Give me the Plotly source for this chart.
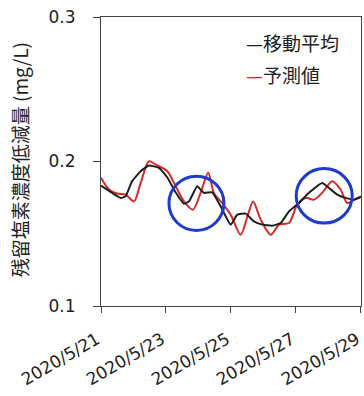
import pandas as pd
import plotly.graph_objects as go

# hours after 2020-05-21 00:00 and values (mg/L)
ma_hours = [0, 14.5, 18.2, 22.9, 29.3, 35.4, 42.8, 49.0, 55.2, 61.3, 65.0, 71.1, 76.0, 82.2, 88.4,
            95.8, 100.7, 106.9, 113.0, 119.1, 126.5, 132.7, 138.9, 146.2, 153.6, 163.4, 168.4,
            174.5, 180.7, 186.8, 192.0]
ma_values = [0.1833, 0.1748, 0.1759, 0.1863, 0.1933, 0.1972, 0.1956, 0.1889, 0.1785, 0.1708,
             0.1724, 0.1828, 0.1783, 0.1787, 0.1690, 0.1563, 0.1632, 0.1639, 0.1585, 0.1563,
             0.1556, 0.1574, 0.1655, 0.1713, 0.1783, 0.1852, 0.1817, 0.1771, 0.1748, 0.1736, 0.1755]

pred_hours = [0, 5.9, 12.0, 18.2, 24.4, 29.3, 35.4, 40.4, 49.0, 53.9, 61.3, 67.9, 73.6, 79.2, 83.4,
              89.5, 95.8, 103.2, 108.2, 112.4, 118.0, 125.4, 131.6, 138.9, 145.0, 151.2, 157.4,
              163.4, 170.8, 177.0, 181.9, 188.0, 192.0]
pred_values = [0.1887, 0.1806, 0.1778, 0.1771, 0.1724, 0.1852, 0.2002, 0.1979, 0.1933, 0.1852,
               0.1724, 0.1667, 0.1783, 0.1922, 0.1783, 0.1713, 0.1632, 0.1493, 0.1620, 0.1724,
               0.1597, 0.1493, 0.1563, 0.1574, 0.1701, 0.1748, 0.1736, 0.1783, 0.1863, 0.1806,
               0.1713, 0.1741, 0.1759]

tick_dates = ["2020-05-21", "2020-05-23", "2020-05-25", "2020-05-27", "2020-05-29"]
tick_labels = ["2020/5/21", "2020/5/23", "2020/5/25", "2020/5/27", "2020/5/29"]

# highlighted regions (hours, value bounds)
circle_hours = [(50.2, 90.8), (144.2, 185.6)]
circle_values = [(0.1523, 0.1898), (0.1574, 0.1951)]

base = pd.Timestamp("2020-05-21")
to_dt = lambda hs: [base + pd.Timedelta(hours=h) for h in hs]

fig = go.Figure()
fig.add_trace(go.Scatter(x=to_dt(pred_hours), y=pred_values, mode="lines", name="予測値",
                         line=dict(color="#d42a2a", width=2, shape="spline", smoothing=0.8),
                         showlegend=False))
fig.add_trace(go.Scatter(x=to_dt(ma_hours), y=ma_values, mode="lines", name="移動平均",
                         line=dict(color="#1e1e1e", width=2, shape="spline", smoothing=0.4),
                         showlegend=False))

for (h0, h1), (v0, v1) in zip(circle_hours, circle_values):
    x0, x1 = to_dt([h0, h1])
    fig.add_shape(type="circle", xref="x", yref="y", x0=x0, x1=x1, y0=v0, y1=v1,
                  line=dict(color="#1f3cc8", width=3))

font_num = "DejaVu Sans"
font_jp = "Noto Sans CJK JP"

fig.add_annotation(xref="paper", yref="paper", x=0.55, y=0.913, xanchor="left", yanchor="middle",
                   text="<span style='color:#1e1e1e'>—</span>移動平均", showarrow=False,
                   font=dict(family=font_jp, size=19, color="#222"))
fig.add_annotation(xref="paper", yref="paper", x=0.55, y=0.80, xanchor="left", yanchor="middle",
                   text="<span style='color:#d42a2a'>—</span>予測値", showarrow=False,
                   font=dict(family=font_jp, size=19, color="#222"))
fig.add_annotation(xref="paper", yref="paper", x=-0.315, y=0.505, xanchor="center", yanchor="middle",
                   text="残留塩素濃度低減量 (mg/L)", textangle=-90, showarrow=False,
                   font=dict(family=font_jp, size=19, color="#222"))

fig.update_xaxes(range=[base, pd.Timestamp("2020-05-29 00:05")], tickvals=pd.to_datetime(tick_dates),
                 ticktext=tick_labels, tickangle=-30, ticks="outside", ticklen=6,
                 tickcolor="#444", showline=True, linecolor="#444", linewidth=1, mirror=True,
                 showgrid=False, zeroline=False, automargin=False, ticklabeloverflow="allow",
                 ticklabelstandoff=10, ticklabelshift=-4,
                 tickfont=dict(family=font_num, size=17, color="#222"))
fig.update_yaxes(range=[0.1, 0.3], tickvals=[0.1, 0.2, 0.3], ticktext=["0.1", "0.2", "0.3"],
                 ticks="outside", ticklen=7, tickcolor="#444", showline=True, linecolor="#444",
                 linewidth=1, mirror=True, showgrid=False, zeroline=False, ticklabelstandoff=14,
                 automargin=False,
                 tickfont=dict(family=font_num, size=17, color="#222"))

fig.update_layout(width=364, height=396, margin=dict(l=101, r=3, t=17, b=90),
                  paper_bgcolor="white", plot_bgcolor="white")

fig.write_html("out.html", config={"displayModeBar": False},
               post_script="document.body.style.margin='0';document.body.style.padding='0';")
